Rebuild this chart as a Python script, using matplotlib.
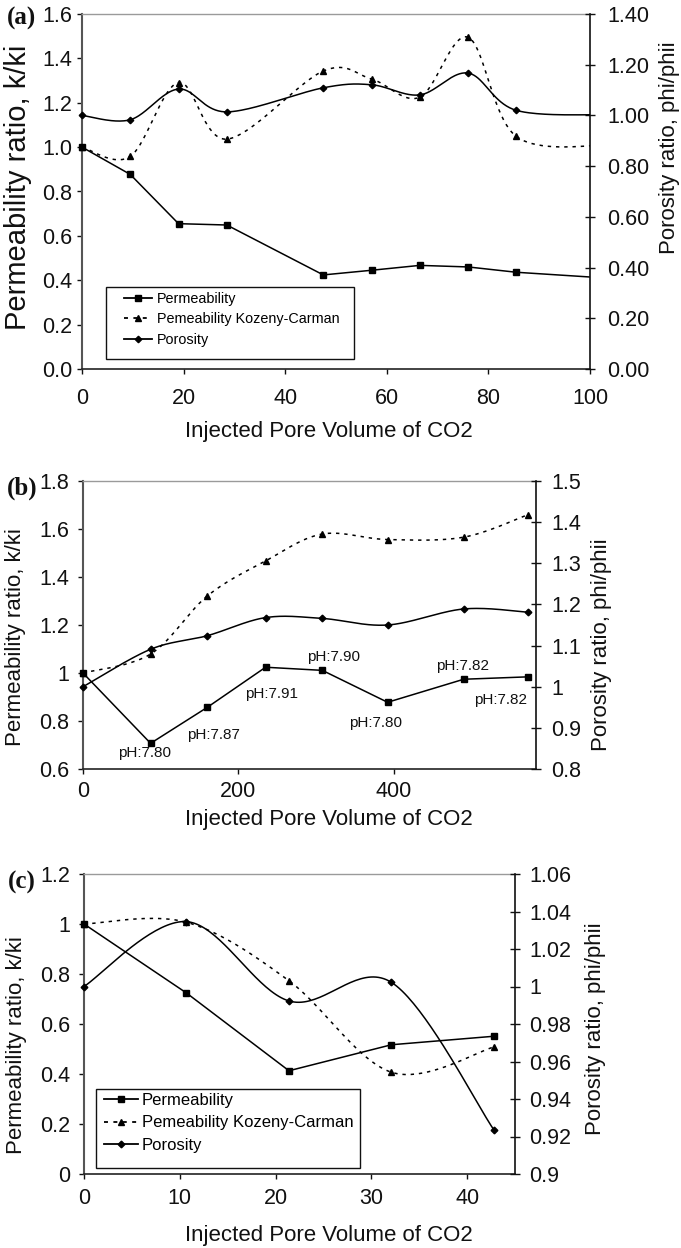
import numpy as np
import matplotlib
matplotlib.use("Agg")
import matplotlib.pyplot as plt
from matplotlib import font_manager
from matplotlib.lines import Line2D
from matplotlib.patches import Rectangle
from matplotlib.ticker import FixedLocator, FuncFormatter

SANS = ["Liberation Sans", "DejaVu Sans"]
SERIF = ["Liberation Serif", "DejaVu Serif"]
plt.rcParams["font.family"] = SANS


def has_font(name):
    try:
        font_manager.findfont(font_manager.FontProperties(family=name),
                              fallback_to_default=False)
        return True
    except Exception:
        return False


NARROW_OK = has_font("Liberation Sans Narrow")
LEG_FAMILY = ["Liberation Sans Narrow", "Liberation Sans", "DejaVu Sans"] if NARROW_OK else SANS
LEG_FS_A = 12.5 if NARROW_OK else 10.4
LEG_FS_C = 14.0 if NARROW_OK else 12.0

# ---------------- data ----------------
XLABEL = "Injected Pore Volume of CO2"
YLABEL_L = "Permeability ratio, k/ki"
YLABEL_R = "Porosity ratio, phi/phii"
LEGEND_LABELS = ["Permeability", "Pemeability Kozeny-Carman", "Porosity"]

# panel (a)
a_x = [0, 9.5, 19, 28.5, 47.5, 57, 66.5, 76, 85.5, 104.5]
a_perm = [1.0, 0.877, 0.655, 0.649, 0.424, 0.445, 0.467, 0.460, 0.436, 0.408]
a_kc = [1.0, 0.958, 1.291, 1.036, 1.343, 1.307, 1.225, 1.495, 1.048, 1.010]
a_por = [1.0, 0.983, 1.104, 1.014, 1.109, 1.121, 1.081, 1.167, 1.020, 1.003]
a_xticks = [0, 20, 40, 60, 80, 100]
a_yticks = [0.0, 0.2, 0.4, 0.6, 0.8, 1.0, 1.2, 1.4, 1.6]
a_yticks_r = [0.0, 0.2, 0.4, 0.6, 0.8, 1.0, 1.2, 1.4]

# panel (b)
b_x = [0, 87, 160, 235, 308, 392, 490, 573]
b_perm = [1.0, 0.707, 0.857, 1.024, 1.011, 0.878, 0.974, 0.984]
b_kc = [1.0, 1.079, 1.321, 1.467, 1.579, 1.556, 1.566, 1.660]
b_por = [1.0, 1.091, 1.124, 1.168, 1.166, 1.150, 1.189, 1.181]
b_xticks = [0, 200, 400]
b_yticks = [0.6, 0.8, 1.0, 1.2, 1.4, 1.6, 1.8]
b_yticks_r = [0.8, 0.9, 1.0, 1.1, 1.2, 1.3, 1.4, 1.5]
b_ph_text = ["pH:7.80", "pH:7.87", "pH:7.91", "pH:7.90", "pH:7.80", "pH:7.82", "pH:7.82"]
b_ph_x = [79, 168, 243, 323, 376, 489, 537]
b_ph_y = [0.665, 0.742, 0.914, 1.068, 0.792, 1.030, 0.887]

# panel (c)
c_x = [0, 10.7, 21.4, 32.1, 42.8]
c_perm = [1.0, 0.724, 0.413, 0.517, 0.551]
c_kc = [1.0, 1.007, 0.773, 0.407, 0.508]
c_por = [1.0, 1.0346, 0.9923, 1.0022, 0.9235]
c_xticks = [0, 10, 20, 30, 40]
c_yticks = [0.0, 0.2, 0.4, 0.6, 0.8, 1.0, 1.2]
c_yticks_r = [0.90, 0.92, 0.94, 0.96, 0.98, 1.00, 1.02, 1.04, 1.06]


# ---------------- helpers ----------------
def smooth(x, y, n=40):
    """Excel-like smoothed line (Catmull-Rom as cubic Bezier)."""
    P = np.column_stack([np.asarray(x, float), np.asarray(y, float)])
    E = np.vstack([P[0], P, P[-1]])
    t = np.linspace(0, 1, n + 1)[1:, None]
    out = [P[:1]]
    for i in range(len(P) - 1):
        p0, p1 = E[i + 1], E[i + 2]
        c1 = p0 + (E[i + 2] - E[i]) / 6.0
        c2 = p1 - (E[i + 3] - E[i + 1]) / 6.0
        seg = (1 - t) ** 3 * p0 + 3 * (1 - t) ** 2 * t * c1 + 3 * (1 - t) * t ** 2 * c2 + t ** 3 * p1
        out.append(seg)
    Q = np.vstack(out)
    return Q[:, 0], Q[:, 1]


def gen_fmt(v, pos=None):
    return f"{round(v, 4):g}"


W, H = 681, 1248
fig = plt.figure(figsize=(W / 100, H / 100), dpi=100)

DOT = (0, (2.2, 3.2))
TICK_FS = 15.5


def px_rect(l, r, t, b):
    return [l / W, 1 - b / H, (r - l) / W, (b - t) / H]


def make_panel(rect, x, perm, kc, por, xlim, ylim, ylim_r, xticks, yticks, yticks_r,
               fmt_l, fmt_r, xpad, lpad, rpad, ms_sq, ms_tri, ms_dia):
    ax = fig.add_axes(rect)
    ax2 = ax.twinx()
    ax.set_xlim(*xlim)
    ax.set_ylim(*ylim)
    ax2.set_ylim(*ylim_r)
    x = np.asarray(x, float)
    inside = x <= xlim[1] + 1e-9

    # permeability: straight segments
    ax.plot(x, perm, color="k", lw=1.1, zorder=3)
    ax.plot(x[inside], np.asarray(perm)[inside], ls="none", marker="s", ms=ms_sq,
            color="k", clip_on=False, zorder=4)
    # Kozeny-Carman: smoothed dotted
    sx, sy = smooth(x, kc)
    ax.plot(sx, sy, color="k", lw=1.1, ls=DOT, zorder=3)
    ax.plot(x[inside], np.asarray(kc)[inside], ls="none", marker="^", ms=ms_tri,
            color="k", clip_on=False, zorder=4)
    # porosity: smoothed solid on right axis
    sx, sy = smooth(x, por)
    ax2.plot(sx, sy, color="k", lw=1.1, zorder=3)
    ax2.plot(x[inside], np.asarray(por)[inside], ls="none", marker="D", ms=ms_dia,
             color="k", clip_on=False, zorder=4)

    ax.xaxis.set_major_locator(FixedLocator(xticks))
    ax.yaxis.set_major_locator(FixedLocator(yticks))
    ax2.yaxis.set_major_locator(FixedLocator(yticks_r))
    ax.xaxis.set_major_formatter(FuncFormatter(gen_fmt))
    ax.yaxis.set_major_formatter(FuncFormatter(fmt_l))
    ax2.yaxis.set_major_formatter(FuncFormatter(fmt_r))

    ax.tick_params(axis="x", direction="out", length=3.5, width=1, pad=xpad,
                   labelsize=TICK_FS, colors="#111111")
    ax.tick_params(axis="y", direction="out", length=3.5, width=1, pad=lpad,
                   labelsize=TICK_FS, colors="#111111")
    ax2.tick_params(axis="y", direction="inout", length=7.2, width=1, pad=rpad,
                    labelsize=TICK_FS, colors="#111111")

    for s in ("left", "top", "bottom"):
        ax2.spines[s].set_visible(False)
    ax.spines["right"].set_visible(False)
    ax.spines["top"].set_color("#9a9a9a")
    ax.spines["top"].set_linewidth(1.0)
    ax.spines["left"].set_color("#555555")
    ax.spines["left"].set_linewidth(1.5)
    ax.spines["bottom"].set_color("#222222")
    ax.spines["bottom"].set_linewidth(1.2)
    ax2.spines["right"].set_color("#111111")
    ax2.spines["right"].set_linewidth(1.2)
    return ax, ax2


def add_legend(ax2, box, anchor, fs, hlen, htp, lsp, ms_sq, ms_tri, ms_dia):
    rect = Rectangle((box[0], box[1]), box[2], box[3], transform=ax2.transAxes,
                     facecolor="white", edgecolor="#111111", lw=1.0, zorder=5)
    ax2.add_patch(rect)
    handles = [
        Line2D([], [], color="k", lw=1.3, marker="s", ms=ms_sq),
        Line2D([], [], color="k", lw=1.3, ls=(0, (2.2, 3.0)), marker="^", ms=ms_tri),
        Line2D([], [], color="k", lw=1.3, marker="D", ms=ms_dia),
    ]
    leg = ax2.legend(handles, LEGEND_LABELS, loc="upper left", bbox_to_anchor=anchor,
                     frameon=False, handlelength=hlen, handletextpad=htp,
                     labelspacing=lsp, borderpad=0, borderaxespad=0,
                     prop={"family": LEG_FAMILY, "size": fs})
    leg.set_zorder(6)


fmt1 = lambda v, p=None: f"{v:.1f}"
fmt2 = lambda v, p=None: f"{v:.2f}"

# panel (a)
axa, axa2 = make_panel(px_rect(82, 590, 14, 369), a_x, a_perm, a_kc, a_por,
                       (0, 100), (0, 1.6), (0, 1.4), a_xticks, a_yticks, a_yticks_r,
                       fmt1, fmt2, xpad=10, lpad=3.6, rpad=8.6,
                       ms_sq=4.0, ms_tri=4.2, ms_dia=3.3)
fa = LEG_FS_A / 72 * 100
add_legend(axa2, (0.048, 0.028, 0.487, 0.203), (0.0827, 0.218), LEG_FS_A,
           28 / fa, 4.5 / fa, (23.3 - 1.16 * fa) / fa, 4.0, 4.2, 3.3)

# panel (b)
axb, axb2 = make_panel(px_rect(83, 536, 481, 769), b_x, b_perm, b_kc, b_por,
                       (0, 583), (0.6, 1.8), (0.8, 1.5), b_xticks, b_yticks, b_yticks_r,
                       gen_fmt, gen_fmt, xpad=5, lpad=6.5, rpad=7.2,
                       ms_sq=5.0, ms_tri=4.4, ms_dia=3.4)
for t, xx, yy in zip(b_ph_text, b_ph_x, b_ph_y):
    axb.text(xx, yy, t, ha="center", va="center", fontsize=11, color="#111111", zorder=6)

# panel (c)
axc, axc2 = make_panel(px_rect(84, 515, 874, 1174), c_x, c_perm, c_kc, c_por,
                       (0, 45), (0, 1.2), (0.9, 1.06), c_xticks, c_yticks, c_yticks_r,
                       gen_fmt, gen_fmt, xpad=6.5, lpad=6.5, rpad=6.7,
                       ms_sq=5.0, ms_tri=4.6, ms_dia=3.4)
fc = LEG_FS_C / 72 * 100
add_legend(axc2, (0.027, 0.02, 0.613, 0.263), (0.0464, 0.269), LEG_FS_C,
           34 / fc, 4.0 / fc, (26.5 - 1.16 * fc) / fc, 5.0, 4.6, 3.4)

# axis titles (figure placed text)
for yc in (432, 820, 1235):
    fig.text(329 / W, 1 - yc / H, XLABEL, ha="center", va="center", fontsize=16, color="#111111")

ylabs = [
    (18, 187, YLABEL_L, 21), (670, 148, YLABEL_R, 16),
    (16, 637, YLABEL_L, 16), (601, 645, YLABEL_R, 16),
    (17, 1045, YLABEL_L, 16), (596, 1029, YLABEL_R, 16),
]
for xp, yp, txt, fs in ylabs:
    fig.text(xp / W, 1 - yp / H, txt, rotation=90, ha="center", va="center",
             fontsize=fs, color="#111111")

for lab, yp in (("(a)", 18), ("(b)", 488), ("(c)", 882)):
    fig.text(22 / W, 1 - yp / H, lab, ha="center", va="center", fontsize=18,
             fontweight="bold", family=SERIF, color="#111111")

fig.savefig("out.png", dpi=100)
